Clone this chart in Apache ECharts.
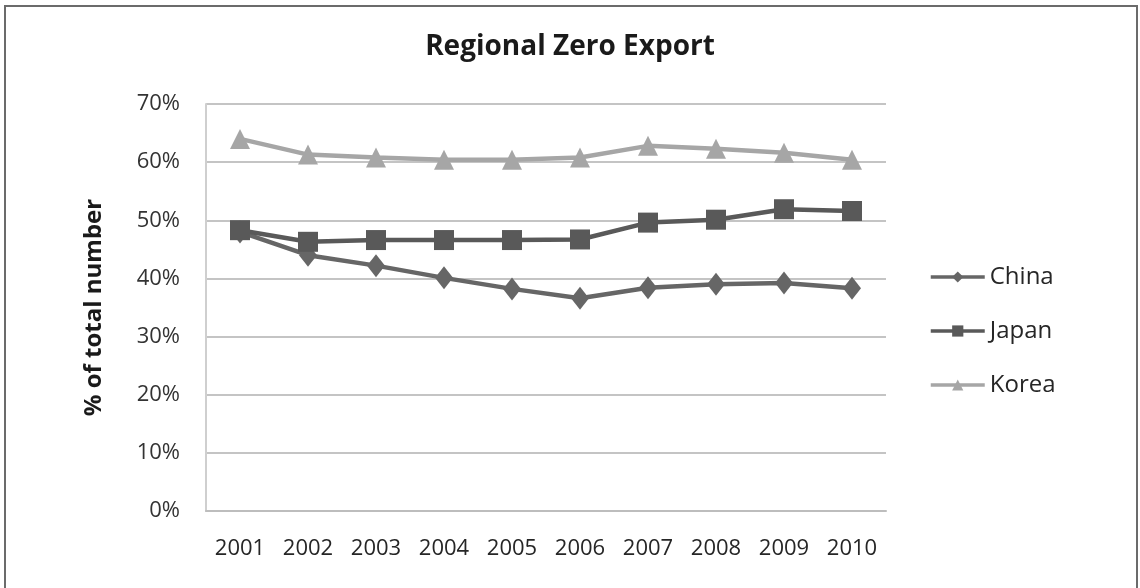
<!DOCTYPE html>
<html>
<head>
<meta charset="utf-8">
<script src="https://cdn.jsdelivr.net/npm/echarts@6/dist/echarts.min.js"></script>
<style>
  html, body { margin: 0; padding: 0; background: #fff; }
  #chart { width: 1140px; height: 588px; }
</style>
</head>
<body>
<div id="chart"></div>
<script>
// years on the x axis
var years = ['2001', '2002', '2003', '2004', '2005', '2006', '2007', '2008', '2009', '2010'];
// share of total number, in percent
var china = [48.0, 44.0, 42.2, 40.1, 38.2, 36.6, 38.4, 39.0, 39.2, 38.3];
var japan = [48.3, 46.3, 46.6, 46.6, 46.6, 46.7, 49.6, 50.1, 51.9, 51.6];
var korea = [64.0, 61.3, 60.8, 60.4, 60.4, 60.8, 62.8, 62.3, 61.6, 60.4];

var font = '"Open Sans", "Liberation Sans", sans-serif';

var myChart = echarts.init(document.getElementById('chart'));

var option = {
  backgroundColor: '#fff',
  animation: false,
  textStyle: { fontFamily: font },
  title: {
    text: 'Regional Zero Export',
    left: 'center',
    top: 28,
    textStyle: { fontSize: 28, fontWeight: 'bold', color: '#1a1a1a', fontFamily: font }
  },
  graphic: [{
    type: 'rect',
    shape: { x: 5, y: 6, width: 1132, height: 600 },
    style: { fill: 'none', stroke: '#6b6b6b', lineWidth: 2 },
    silent: true
  }],
  legend: {
    orient: 'vertical',
    left: 924,
    top: 260,
    itemGap: 30,
    itemWidth: 54,
    itemHeight: 14,
    lineStyle: { width: 3.5 },
    textStyle: { fontSize: 24, color: '#262626', fontFamily: font },
    data: ['China', 'Japan', 'Korea']
  },
  grid: { left: 206, right: 254, top: 104, bottom: 77 },
  xAxis: {
    type: 'category',
    data: years,
    boundaryGap: true,
    axisLine: { lineStyle: { color: '#bdbdbd', width: 2 } },
    axisTick: { show: false },
    axisLabel: { fontSize: 22, color: '#262626', margin: 27, interval: 0, hideOverlap: false }
  },
  yAxis: {
    type: 'value',
    min: 0,
    max: 70,
    interval: 10,
    name: '% of total number',
    nameLocation: 'middle',
    nameGap: 100,
    nameTextStyle: { fontSize: 24, fontWeight: 'bold', color: '#1a1a1a' },
    axisLine: { show: true, lineStyle: { color: '#cfcfcf', width: 2 } },
    axisTick: { show: false },
    splitLine: { lineStyle: { color: '#c4c4c4', width: 2 } },
    axisLabel: { fontSize: 22, color: '#333', margin: 26, formatter: '{value}%' }
  },
  series: [
    {
      name: 'China',
      type: 'line',
      data: china,
      symbol: 'diamond',
      symbolSize: [18, 23],
      color: '#666666',
      lineStyle: { width: 4.5, color: '#666666' },
      itemStyle: { color: '#666666' },
      z: 3
    },
    {
      name: 'Japan',
      type: 'line',
      data: japan,
      symbol: 'rect',
      symbolSize: 20,
      color: '#595959',
      lineStyle: { width: 4.5, color: '#595959' },
      itemStyle: { color: '#595959' },
      z: 4
    },
    {
      name: 'Korea',
      type: 'line',
      data: korea,
      symbol: 'triangle',
      symbolSize: 20,
      color: '#a6a6a6',
      lineStyle: { width: 4.5, color: '#a6a6a6' },
      itemStyle: { color: '#a6a6a6' },
      z: 2
    }
  ]
};

myChart.setOption(option);
</script>
</body>
</html>
